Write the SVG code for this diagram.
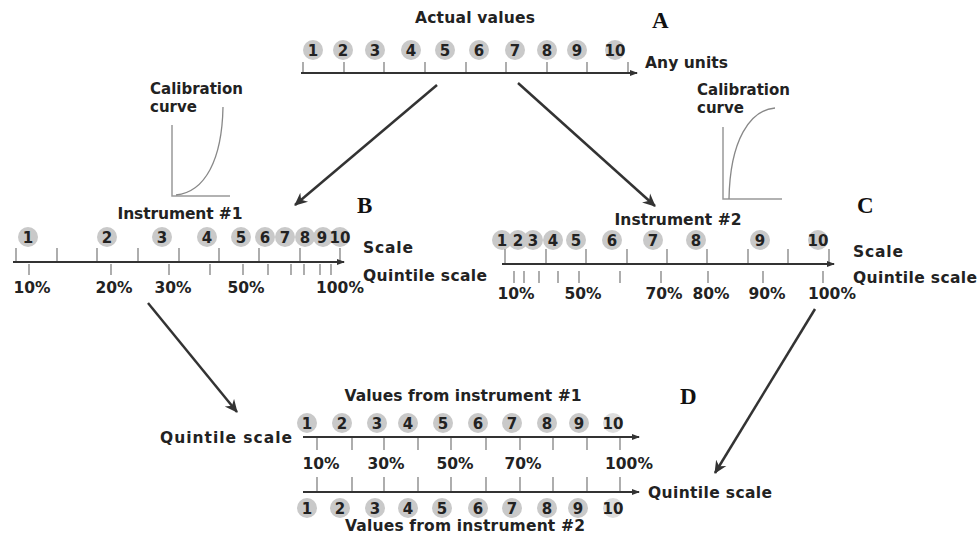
<svg xmlns="http://www.w3.org/2000/svg" width="978" height="540" viewBox="0 0 978 540">
<defs>
<style>
.t{font-family:"DejaVu Sans","Liberation Sans",sans-serif;font-weight:bold;fill:#222}
.lbl{font-size:15.5px}
.cl{font-size:15px}
.num{font-size:15px;text-anchor:middle}
.mid{text-anchor:middle}
.letter{font-family:"Liberation Serif","Times New Roman",serif;font-weight:bold;font-size:23px;fill:#111}
.ax{stroke:#333;stroke-width:2.2;fill:none}
.tk{stroke:#777;stroke-width:1.2}
.c{fill:#c9c9c9}
.cal{stroke:#999;stroke-width:1.5;fill:none}
.crv{stroke:#888;stroke-width:1.3;fill:none}
.conn{stroke:#333;stroke-width:2.5;fill:none}
</style>
<marker id="axh" markerWidth="8" markerHeight="8" refX="7" refY="4" orient="auto" markerUnits="userSpaceOnUse">
<path d="M0,1 L8,4 L0,7 z" fill="#333"/>
</marker>
<marker id="ah" markerWidth="14" markerHeight="14" refX="12" refY="7" orient="auto" markerUnits="userSpaceOnUse">
<path d="M0,1 L13,7 L0,13 L4,7 z" fill="#333"/>
</marker>
</defs>
<rect width="978" height="540" fill="#fff"/>

<g id="panelA">
<text class="t lbl mid" x="475" y="23" textLength="120">Actual values</text>
<text class="letter" x="652" y="28">A</text>
<g class="c">
<circle cx="313" cy="50" r="10"/><circle cx="343" cy="50" r="10"/><circle cx="375" cy="50" r="10"/><circle cx="411" cy="50" r="10"/><circle cx="445" cy="50" r="10"/><circle cx="479" cy="50" r="10"/><circle cx="515" cy="50" r="10"/><circle cx="547" cy="50" r="10"/><circle cx="577" cy="50" r="10"/><circle cx="615" cy="50" r="10"/>
</g>
<g class="t num">
<text x="313" y="55.5">1</text><text x="343" y="55.5">2</text><text x="375" y="55.5">3</text><text x="411" y="55.5">4</text><text x="445" y="55.5">5</text><text x="479" y="55.5">6</text><text x="515" y="55.5">7</text><text x="547" y="55.5">8</text><text x="577" y="55.5">9</text><text x="615" y="55.5">10</text>
</g>
<g class="tk">
<line x1="303" y1="62" x2="303" y2="72"/><line x1="344" y1="62" x2="344" y2="72"/><line x1="384" y1="62" x2="384" y2="72"/><line x1="425" y1="62" x2="425" y2="72"/><line x1="466" y1="62" x2="466" y2="72"/><line x1="506" y1="62" x2="506" y2="72"/><line x1="547" y1="62" x2="547" y2="72"/><line x1="587" y1="62" x2="587" y2="72"/><line x1="628" y1="62" x2="628" y2="72"/>
</g>
<line class="ax" x1="301" y1="73" x2="637" y2="73" marker-end="url(#axh)"/>
<text class="t lbl" x="645" y="68" textLength="83">Any units</text>
</g>

<g id="calibration1">
<text class="t cl" x="150" y="94" textLength="93">Calibration</text>
<text class="t cl" x="150" y="112">curve</text>
<path class="cal" d="M172,125 L172,196 L230,196"/>
<path class="crv" d="M176,195 C205,192 222,160 223,107"/>
</g>

<g id="calibration2">
<text class="t cl" x="697" y="95" textLength="93">Calibration</text>
<text class="t cl" x="697" y="113">curve</text>
<path class="cal" d="M723,127 L723,199 L782,199"/>
<path class="crv" d="M729,199 C730,140 750,110 775,108"/>
</g>

<g id="panelB">
<text class="t lbl mid" x="180" y="219" textLength="125">Instrument #1</text>
<text class="letter" x="357" y="213">B</text>
<g class="c">
<circle cx="28" cy="237" r="10"/><circle cx="107" cy="237" r="10"/><circle cx="162" cy="237" r="10"/><circle cx="207" cy="237" r="10"/><circle cx="241" cy="237" r="10"/><circle cx="265" cy="237" r="10"/><circle cx="285" cy="237" r="10"/><circle cx="305" cy="237" r="10"/><circle cx="323" cy="237" r="10"/><circle cx="340" cy="237" r="10"/>
</g>
<g class="t num">
<text x="28" y="242.5">1</text><text x="107" y="242.5">2</text><text x="162" y="242.5">3</text><text x="207" y="242.5">4</text><text x="241" y="242.5">5</text><text x="265" y="242.5">6</text><text x="285" y="242.5">7</text><text x="305" y="242.5">8</text><text x="322" y="242.5">9</text><text x="340" y="242.5">10</text>
</g>
<g class="tk">
<line x1="16" y1="248" x2="16" y2="261"/><line x1="57" y1="248" x2="57" y2="261"/><line x1="97" y1="248" x2="97" y2="261"/><line x1="138" y1="248" x2="138" y2="261"/><line x1="179" y1="248" x2="179" y2="261"/><line x1="219" y1="248" x2="219" y2="261"/><line x1="259" y1="248" x2="259" y2="261"/><line x1="300" y1="248" x2="300" y2="261"/><line x1="340" y1="248" x2="340" y2="261"/>
<line x1="29" y1="264" x2="29" y2="275"/><line x1="111" y1="264" x2="111" y2="275"/><line x1="169" y1="264" x2="169" y2="275"/><line x1="210" y1="264" x2="210" y2="275"/><line x1="243" y1="264" x2="243" y2="275"/><line x1="268" y1="264" x2="268" y2="275"/><line x1="291" y1="264" x2="291" y2="275"/><line x1="304" y1="264" x2="304" y2="275"/><line x1="320" y1="264" x2="320" y2="275"/><line x1="331" y1="264" x2="331" y2="275"/>
</g>
<line class="ax" x1="13" y1="262" x2="344" y2="262" marker-end="url(#axh)"/>
<g class="t lbl mid">
<text x="32" y="293">10%</text><text x="114" y="293">20%</text><text x="173" y="293">30%</text><text x="246" y="293">50%</text><text x="340" y="293">100%</text>
</g>
<text class="t lbl" x="363" y="253" textLength="50">Scale</text>
<text class="t lbl" x="363" y="281" textLength="124">Quintile scale</text>
</g>

<g id="panelC">
<text class="t lbl mid" x="678" y="225" textLength="127">Instrument #2</text>
<text class="letter" x="857" y="213">C</text>
<g class="c">
<circle cx="502" cy="240" r="10"/><circle cx="518" cy="240" r="10"/><circle cx="533" cy="240" r="10"/><circle cx="553" cy="240" r="10"/><circle cx="576" cy="240" r="10"/><circle cx="612" cy="240" r="10"/><circle cx="653" cy="240" r="10"/><circle cx="696" cy="240" r="10"/><circle cx="760" cy="240" r="10"/><circle cx="818" cy="240" r="10"/>
</g>
<g class="t num">
<text x="502" y="245.5">1</text><text x="518" y="245.5">2</text><text x="533" y="245.5">3</text><text x="553" y="245.5">4</text><text x="576" y="245.5">5</text><text x="612" y="245.5">6</text><text x="653" y="245.5">7</text><text x="696" y="245.5">8</text><text x="760" y="245.5">9</text><text x="818" y="245.5">10</text>
</g>
<g class="tk">
<line x1="505" y1="249" x2="505" y2="263"/><line x1="546" y1="249" x2="546" y2="263"/><line x1="586" y1="249" x2="586" y2="263"/><line x1="627" y1="249" x2="627" y2="263"/><line x1="667" y1="249" x2="667" y2="263"/><line x1="707" y1="249" x2="707" y2="263"/><line x1="748" y1="249" x2="748" y2="263"/><line x1="788" y1="249" x2="788" y2="263"/><line x1="829" y1="249" x2="829" y2="263"/>
<line x1="514" y1="271" x2="514" y2="283"/><line x1="524" y1="271" x2="524" y2="283"/><line x1="539" y1="271" x2="539" y2="283"/><line x1="558" y1="271" x2="558" y2="283"/><line x1="579" y1="271" x2="579" y2="283"/><line x1="620" y1="271" x2="620" y2="283"/><line x1="661" y1="271" x2="661" y2="283"/><line x1="708" y1="271" x2="708" y2="283"/><line x1="763" y1="271" x2="763" y2="283"/><line x1="823" y1="271" x2="823" y2="283"/>
</g>
<line class="ax" x1="502" y1="264" x2="834" y2="264" marker-end="url(#axh)"/>
<g class="t lbl mid">
<text x="516" y="299">10%</text><text x="583" y="299">50%</text><text x="664" y="299">70%</text><text x="711" y="299">80%</text><text x="767" y="299">90%</text><text x="832" y="299">100%</text>
</g>
<text class="t lbl" x="853" y="257" textLength="50">Scale</text>
<text class="t lbl" x="853" y="283" textLength="124">Quintile scale</text>
</g>

<g id="panelD">
<text class="t lbl mid" x="463" y="401" textLength="237">Values from instrument #1</text>
<text class="letter" x="680" y="404">D</text>
<text class="t lbl" x="160" y="443" textLength="132">Quintile scale</text>
<g class="c">
<circle cx="307" cy="423" r="10"/><circle cx="342" cy="423" r="10"/><circle cx="377" cy="423" r="10"/><circle cx="408" cy="423" r="10"/><circle cx="443" cy="423" r="10"/><circle cx="478" cy="423" r="10"/><circle cx="512" cy="423" r="10"/><circle cx="547" cy="423" r="10"/><circle cx="579" cy="423" r="10"/><circle cx="613" cy="423" r="10" fill="#ddd"/>
<circle cx="307" cy="508" r="10"/><circle cx="340" cy="508" r="10"/><circle cx="375" cy="508" r="10"/><circle cx="408" cy="508" r="10"/><circle cx="442" cy="508" r="10"/><circle cx="478" cy="508" r="10"/><circle cx="512" cy="508" r="10"/><circle cx="547" cy="508" r="10"/><circle cx="578" cy="508" r="10"/><circle cx="613" cy="508" r="10" fill="#ddd"/>
</g>
<g class="t num">
<text x="307" y="428.5">1</text><text x="342" y="428.5">2</text><text x="377" y="428.5">3</text><text x="408" y="428.5">4</text><text x="443" y="428.5">5</text><text x="478" y="428.5">6</text><text x="512" y="428.5">7</text><text x="547" y="428.5">8</text><text x="579" y="428.5">9</text><text x="613" y="428.5">10</text>
<text x="307" y="513.5">1</text><text x="340" y="513.5">2</text><text x="375" y="513.5">3</text><text x="408" y="513.5">4</text><text x="442" y="513.5">5</text><text x="478" y="513.5">6</text><text x="512" y="513.5">7</text><text x="547" y="513.5">8</text><text x="578" y="513.5">9</text><text x="613" y="513.5">10</text>
</g>
<line class="ax" x1="303" y1="437" x2="639" y2="437" marker-end="url(#axh)"/>
<line class="ax" x1="303" y1="492" x2="639" y2="492" marker-end="url(#axh)"/>
<g class="tk">
<line x1="317" y1="438" x2="317" y2="450"/><line x1="352" y1="438" x2="352" y2="450"/><line x1="384" y1="438" x2="384" y2="450"/><line x1="418" y1="438" x2="418" y2="450"/><line x1="451" y1="438" x2="451" y2="450"/><line x1="486" y1="438" x2="486" y2="450"/><line x1="520" y1="438" x2="520" y2="450"/><line x1="553" y1="438" x2="553" y2="450"/><line x1="587" y1="438" x2="587" y2="450"/><line x1="620" y1="438" x2="620" y2="450"/>
<line x1="317" y1="477" x2="317" y2="491"/><line x1="352" y1="477" x2="352" y2="491"/><line x1="384" y1="477" x2="384" y2="491"/><line x1="418" y1="477" x2="418" y2="491"/><line x1="451" y1="477" x2="451" y2="491"/><line x1="486" y1="477" x2="486" y2="491"/><line x1="520" y1="477" x2="520" y2="491"/><line x1="553" y1="477" x2="553" y2="491"/><line x1="587" y1="477" x2="587" y2="491"/><line x1="620" y1="477" x2="620" y2="491"/>
</g>
<g class="t lbl mid">
<text x="321" y="469">10%</text><text x="386" y="469">30%</text><text x="455" y="469">50%</text><text x="523" y="469">70%</text><text x="629" y="469">100%</text>
</g>
<text class="t lbl" x="648" y="498" textLength="124">Quintile scale</text>
<text class="t lbl mid" x="465" y="531" textLength="240">Values from instrument #2</text>
</g>

<g id="connectors">
<line class="conn" x1="437" y1="85" x2="295" y2="205" marker-end="url(#ah)"/>
<line class="conn" x1="518" y1="83" x2="655" y2="206" marker-end="url(#ah)"/>
<line class="conn" x1="148" y1="303" x2="237" y2="412" marker-end="url(#ah)"/>
<line class="conn" x1="815" y1="309" x2="715" y2="473" marker-end="url(#ah)"/>
</g>
</svg>
